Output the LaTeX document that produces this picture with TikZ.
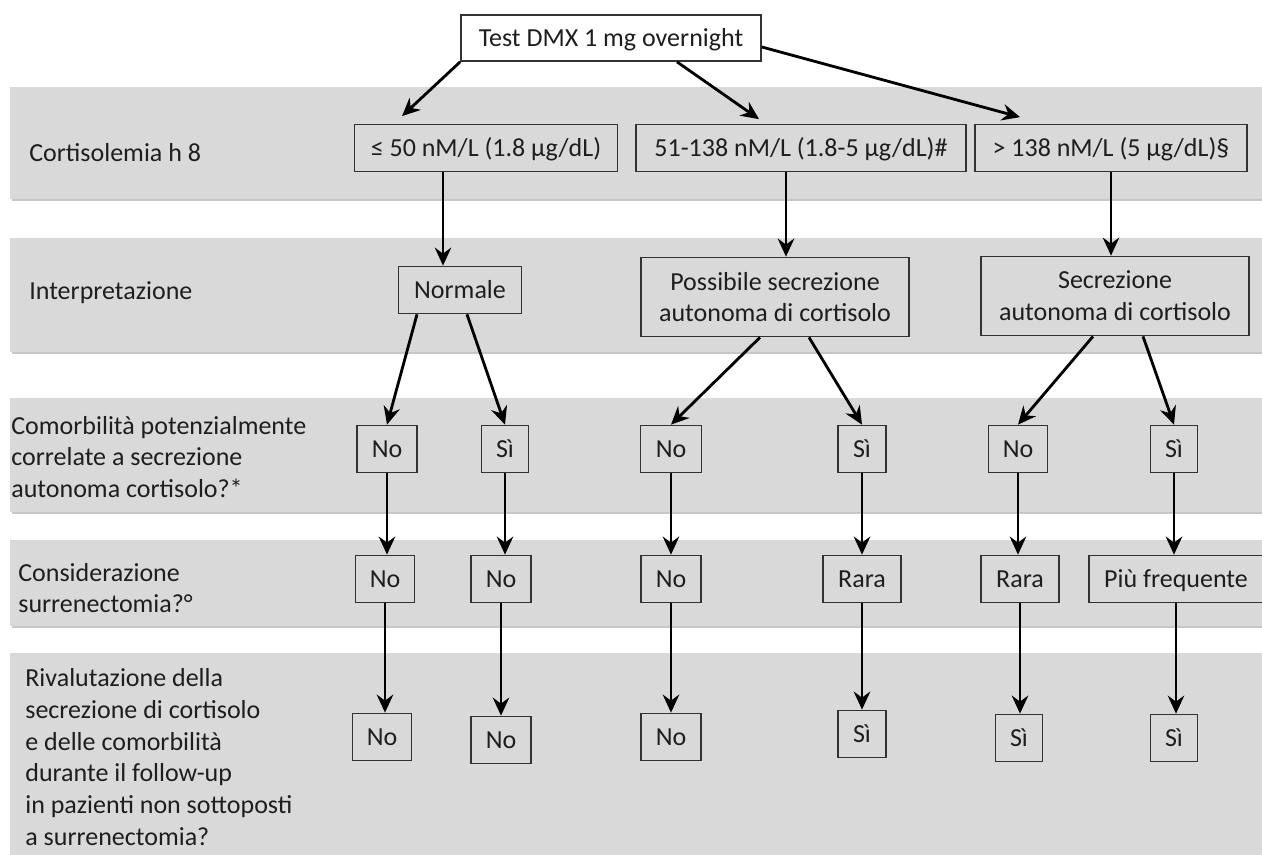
\documentclass[tikz,border=0pt]{standalone}
\usepackage{fontspec}
\setmainfont{Carlito}
\usetikzlibrary{arrows.meta}

\definecolor{bandgray}{RGB}{217,217,217}
\definecolor{boxline}{RGB}{50,50,50}
\definecolor{txt}{RGB}{30,30,30}

\tikzset{
  band/.style={fill=bandgray},
  bandshadow/.style={fill=black!22},
  box/.style={draw=boxline, line width=1pt, inner sep=0pt, minimum height=0.94cm,
    text height=9.5pt, text depth=0pt, text=txt, align=center},
  bigbox/.style={box, text height=, text depth=, minimum width=5.36cm, minimum height=1.58cm},
  lab/.style={anchor=west, inner sep=0pt, align=left, text=txt},
  arr/.style={line width=1.6pt, -{Stealth[length=3.6mm,width=3.3mm,inset=1.2mm]}}
}

\begin{document}
\begin{tikzpicture}[x=0.02cm, y=-0.02cm, font=\fontsize{14.8}{18.1}\selectfont]
\useasboundingbox (0,0) rectangle (1262,855);

% bands
\foreach \ya/\yb in {87/199, 238/352, 398/512, 540/626, 653/860} {
  \fill[bandshadow] (12,\ya+2) rectangle (1265,\yb+2);
  \fill[band] (10,\ya) rectangle (1265,\yb);
}

% row labels
\node[lab] (l1) at (29,153) {Cortisolemia h 8};
\node[lab] (l2) at (29,293) {Interpretazione};
\node[lab] (l3) at (11,457) {Comorbilità potenzialmente\\correlate a secrezione\\autonoma cortisolo?*};
\node[lab] (l4) at (18,588) {Considerazione\\surrenectomia?°};
\node[lab] (l5) at (25,757) {Rivalutazione della\\secrezione di cortisolo\\e delle comorbilità\\durante il follow-up\\in pazienti non sottoposti\\a surrenectomia?};

% test and cortisol levels
\node[box, fill=white, minimum width=6cm, minimum height=0.92cm] (test) at (611,38) {Test DMX 1 mg overnight};
\node[box, minimum width=5.26cm] (c1) at (486,148) {≤ 50 nM/L (1.8 µg/dL)};
\node[box, minimum width=6.6cm] (c2) at (801,148) {51-138 nM/L (1.8-5 µg/dL)\#};
\node[box, minimum width=5.44cm] (c3) at (1111,148) {> 138 nM/L (5 µg/dL)§};

% interpretation
\node[box, minimum width=2.46cm] (normale) at (460,290) {Normale};
\node[bigbox] (poss) at (775,297) {Possibile secrezione\\autonoma di cortisolo};
\node[bigbox] (secr) at (1115,296) {Secrezione\\autonoma di cortisolo};

% comorbidities
\node[box, minimum width=1.2cm] (r3a) at (387,449) {No};
\node[box, minimum width=0.94cm] (r3b) at (505,449) {Sì};
\node[box, minimum width=1.22cm] (r3c) at (671,449) {No};
\node[box, minimum width=0.96cm] (r3d) at (862,449) {Sì};
\node[box, minimum width=1.18cm] (r3e) at (1018,449) {No};
\node[box, minimum width=0.94cm] (r3f) at (1174,449) {Sì};

% surgery
\node[box, minimum width=1.18cm] (r4a) at (385,579) {No};
\node[box, minimum width=1.2cm] (r4b) at (501,579) {No};
\node[box, minimum width=1.2cm] (r4c) at (671,579) {No};
\node[box, minimum width=1.56cm] (r4d) at (862,579) {Rara};
\node[box, minimum width=1.56cm] (r4e) at (1020,579) {Rara};
\node[box, minimum width=3.48cm] (r4f) at (1176,579) {Più frequente};

% follow-up
\node[box, minimum width=1.18cm] (r5a) at (382,737) {No};
\node[box, minimum width=1.2cm] (r5b) at (501,740) {No};
\node[box, minimum width=1.2cm] (r5c) at (671,737) {No};
\node[box, minimum width=0.96cm] (r5d) at (862,734) {Sì};
\node[box, minimum width=0.94cm] (r5e) at (1019,738) {Sì};
\node[box, minimum width=0.94cm] (r5f) at (1174,738) {Sì};

% arrows
\draw[arr] (test.south west) -- ([xshift=-1.68cm,yshift=0.15cm]c1.north);
\draw[arr] ([xshift=1.32cm]test.south) -- ([xshift=-0.84cm,yshift=0.09cm]c2.north);
\draw[arr] ([yshift=-0.18cm]test.east) -- ([xshift=-1.82cm,yshift=0.13cm]c3.north);

\draw[arr] ([xshift=-0.86cm]c1.south) -- ([xshift=-0.86cm]c1.south |- normale.north);
\draw[arr] ([xshift=-0.3cm]c2.south) -- ([xshift=-0.3cm]c2.south |- poss.north);
\draw[arr] (c3.south) -- (c3.south |- secr.north);

\draw[arr] ([xshift=-0.86cm]normale.south) -- (r3a.north);
\draw[arr] ([xshift=0.14cm]normale.south) -- (r3b.north);
\draw[arr] ([xshift=-0.3cm]poss.south) -- (r3c.north);
\draw[arr] ([xshift=0.68cm]poss.south) -- (r3d.north);
\draw[arr] ([xshift=-0.44cm]secr.south) -- (r3e.north);
\draw[arr] ([xshift=0.56cm]secr.south) -- (r3f.north);

\foreach \p/\q in {r3a/r4a, r3b/r4b, r3c/r4c, r3d/r4d, r3e/r4e, r3f/r4f,
                   r4a/r5a, r4b/r5b, r4c/r5c, r4d/r5d, r4e/r5e, r4f/r5f}
  \draw[arr] (\p.south) -- (\p.south |- \q.north);

\end{tikzpicture}
\end{document}
